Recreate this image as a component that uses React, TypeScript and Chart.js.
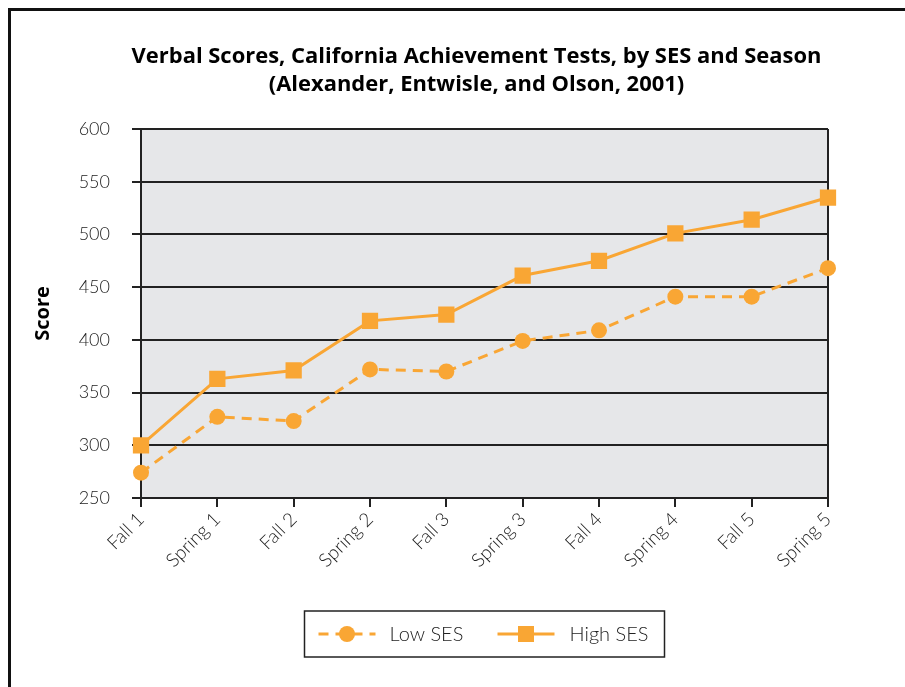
import React, { useEffect, useRef } from "react";
import { Chart, registerables } from "chart.js";

Chart.register(...registerables);

const categories = ["Fall 1", "Spring 1", "Fall 2", "Spring 2", "Fall 3", "Spring 3", "Fall 4", "Spring 4", "Fall 5", "Spring 5"];
const lowSES = [274, 327, 323, 372, 370, 399, 409, 441, 441, 468];
const highSES = [300, 363, 371, 418, 424, 461, 475, 501, 514, 535];
const titleLines = ["Verbal Scores, California Achievement Tests, by SES and Season", "(Alexander, Entwisle, and Olson, 2001)"];
const yTitle = "Score";
const seriesNames = ["Low SES", "High SES"];

const ORANGE = "#F9A634";
const DARK = "#222222";

const framePlugin = {
  id: "frameAndTitle",
  beforeDraw(chart: any) {
    const { ctx, chartArea } = chart;
    ctx.save();
    ctx.fillStyle = "#ffffff";
    ctx.fillRect(0, 0, chart.width, chart.height);
    // outer frame
    ctx.strokeStyle = "#111111";
    ctx.lineWidth = 3;
    ctx.beginPath();
    ctx.moveTo(9.5, chart.height + 5);
    ctx.lineTo(9.5, 9.5);
    ctx.lineTo(chart.width + 5, 9.5);
    ctx.stroke();
    // plot background
    ctx.fillStyle = "#E6E7E9";
    ctx.fillRect(chartArea.left, chartArea.top, chartArea.right - chartArea.left, chartArea.bottom - chartArea.top);
    // title, sized so the first line spans ~690px
    ctx.fillStyle = "#000000";
    ctx.font = "bold 20px 'Open Sans'";
    const w = ctx.measureText(titleLines[0]).width;
    const size = Math.min(22, Math.max(16, (20 * 690) / w));
    ctx.font = `bold ${size.toFixed(2)}px 'Open Sans'`;
    ctx.textAlign = "center";
    ctx.textBaseline = "middle";
    const cx = (chartArea.left + chartArea.right) / 2 - 8;
    ctx.fillText(titleLines[0], cx, chartArea.top - 72);
    ctx.fillText(titleLines[1], cx, chartArea.top - 44);
    ctx.restore();
  },
  afterDraw(chart: any) {
    const { ctx, chartArea } = chart;
    const ds = chart.data.datasets;
    const cx = (chartArea.left + chartArea.right) / 2;
    const boxW = 360;
    const boxH = 46;
    const bx = cx - boxW / 2;
    const by = chartArea.bottom + 113;
    ctx.save();
    ctx.fillStyle = "#ffffff";
    ctx.fillRect(bx, by, boxW, boxH);
    ctx.strokeStyle = DARK;
    ctx.lineWidth = 1.5;
    ctx.strokeRect(bx, by, boxW, boxH);
    const my = by + boxH / 2;
    const items = [
      { x0: bx + 14, text: bx + 85 },
      { x0: bx + 193, text: bx + 265 },
    ];
    items.forEach((it, i) => {
      const d = ds[i];
      ctx.strokeStyle = d.borderColor;
      ctx.lineWidth = d.borderWidth;
      ctx.setLineDash(d.borderDash || []);
      ctx.beginPath();
      ctx.moveTo(it.x0, my);
      ctx.lineTo(it.x0 + 57, my);
      ctx.stroke();
      ctx.setLineDash([]);
      ctx.fillStyle = d.pointBackgroundColor;
      const px = it.x0 + 28.5;
      if (d.pointStyle === "rect") {
        const s = 8;
        ctx.fillRect(px - s, my - s, 2 * s, 2 * s);
      } else {
        ctx.beginPath();
        ctx.arc(px, my, 8, 0, Math.PI * 2);
        ctx.fill();
      }
      ctx.fillStyle = "#222222";
      ctx.font = "300 20px Lato";
      ctx.textAlign = "left";
      ctx.textBaseline = "middle";
      ctx.fillText(d.label, it.text, my + 1);
    });
    ctx.restore();
  },
};

export default function App() {
  const ref = useRef<HTMLCanvasElement | null>(null);
  useEffect(() => {
    if (!ref.current) return;
    const last = categories.length - 1;
    const chart = new Chart(ref.current, {
      type: "line",
      data: {
        labels: categories,
        datasets: [
          {
            label: seriesNames[0],
            data: lowSES,
            borderColor: ORANGE,
            backgroundColor: ORANGE,
            pointBackgroundColor: ORANGE,
            pointBorderColor: ORANGE,
            borderWidth: 3,
            borderDash: [10, 7],
            pointStyle: "circle",
            pointRadius: 8,
            pointBorderWidth: 0,
            tension: 0,
          },
          {
            label: seriesNames[1],
            data: highSES,
            borderColor: ORANGE,
            backgroundColor: ORANGE,
            pointBackgroundColor: ORANGE,
            pointBorderColor: ORANGE,
            borderWidth: 3,
            pointStyle: "rect",
            pointRadius: 11.5,
            pointBorderWidth: 0,
            tension: 0,
          },
        ],
      },
      options: {
        responsive: false,
        animation: false,
        layout: { padding: { top: 129, right: 77, left: 0, bottom: 0 } },
        plugins: {
          legend: { display: false },
          title: { display: false },
          tooltip: { enabled: false },
        },
        scales: {
          x: {
            offset: false,
            afterFit: (s: any) => {
              s.height = 189;
            },
            grid: {
              drawOnChartArea: true,
              color: (c: any) => (c.index === last ? DARK : "rgba(0,0,0,0)"),
              tickColor: DARK,
              tickLength: 9,
              lineWidth: 2,
            },
            border: { display: true, color: DARK, width: 2 },
            ticks: {
              autoSkip: false,
              minRotation: 45,
              maxRotation: 45,
              padding: 1,
              color: "#222222",
              font: { family: "Lato", size: 19, weight: "300" },
            },
          },
          y: {
            min: 250,
            max: 600,
            afterFit: (s: any) => {
              s.width = 141;
            },
            grid: { color: DARK, lineWidth: 2, tickLength: 9, tickColor: DARK },
            border: { display: true, color: DARK, width: 2 },
            ticks: {
              stepSize: 50,
              padding: 22,
              color: "#222222",
              font: { family: "Lato", size: 18, weight: "300" },
            },
            title: {
              display: true,
              text: yTitle,
              color: "#000000",
              font: { family: "'Open Sans'", size: 20, weight: "bold" },
              padding: { top: 31, bottom: 0 },
            },
          },
        },
      },
      plugins: [framePlugin],
    });
    return () => chart.destroy();
  }, []);
  return (
    <div style={{ position: "absolute", left: 0, top: 0, width: 905, height: 687, overflow: "hidden" }}>
      <canvas ref={ref} width={905} height={687} style={{ display: "block", width: 905, height: 687 }} />
    </div>
  );
}
